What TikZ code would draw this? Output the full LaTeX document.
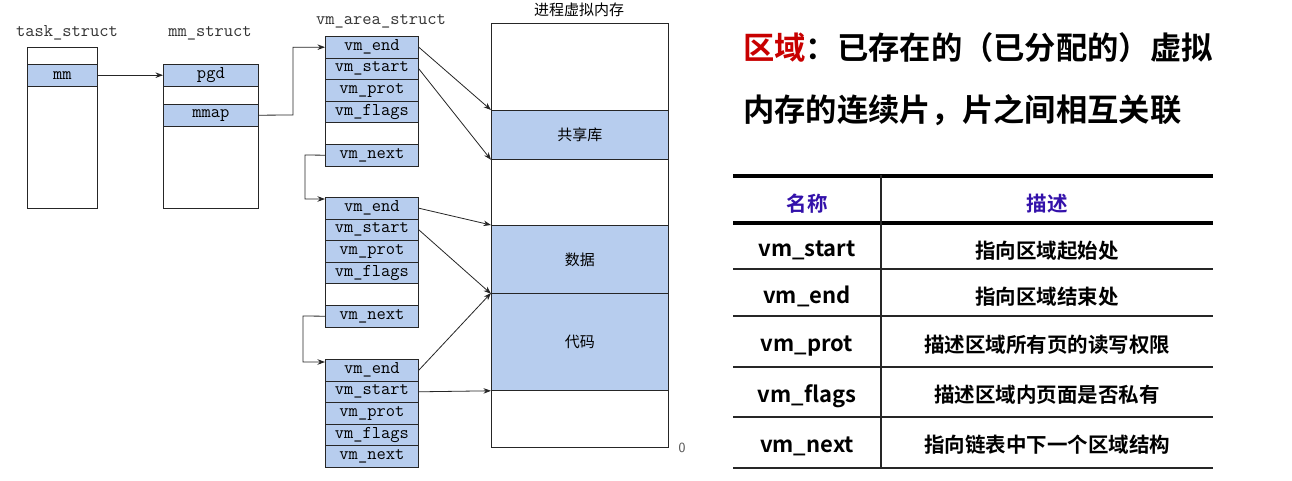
\documentclass[tikz,border=0pt]{standalone}
\usepackage{fontspec}
\newfontfamily\cjk{Noto Sans CJK SC}
\newfontfamily\cjkb{Noto Sans CJK SC Bold}
\usetikzlibrary{arrows.meta}
\definecolor{vmblue}{RGB}{183,205,238}
\definecolor{hdr}{RGB}{51,17,170}
\definecolor{ttl}{RGB}{200,0,0}
\begin{document}
\begin{tikzpicture}[x=1pt,y=-1pt,
  box/.style={draw=black!85, line width=0.8pt, inner sep=0pt, anchor=north west},
  row/.style={box, fill=vmblue, minimum width=93pt, minimum height=21.6pt,
     font=\ttfamily\fontsize{18}{18}\selectfont},
  blank/.style={row, fill=white},
  lbl/.style={font=\ttfamily\fontsize{18}{18}\selectfont, text=black!80, inner sep=0pt},
  ptr/.style={draw=black!85, line width=0.8pt, -{Stealth[length=7.5pt,width=5.5pt]}},
  region/.style={box, fill=vmblue, minimum width=177pt, font=\cjk\fontsize{15}{15}\selectfont},
  tcell/.style={font=\cjkb\fontsize{22}{22}\selectfont, inner sep=0pt},
  dcell/.style={font=\cjkb\fontsize{20.5}{20.5}\selectfont, inner sep=0pt},
  thin/.style={line width=1.3pt, draw=black!85},
  thick/.style={line width=3.5pt, draw=black}
]
\useasboundingbox (0,0) rectangle (1292,481);
\fill[white] (0,0) rectangle (1292,481);

% task_struct
\node[lbl] (tlbl) at (67,33) {task\_struct};
\node[box, minimum width=70pt, minimum height=161pt] (task) at (27,47) {};
\node[row, minimum width=70pt] (mm) at (27,64) {mm};

% mm_struct
\node[lbl] (mlbl) at (210,33) {mm\_struct};
\node[box, minimum width=95pt, minimum height=144pt] (mms) at (163,64) {};
\node[row, minimum width=95pt] (pgd) at (163,64) {pgd};
\node[row, minimum width=95pt] (mmap) at (163,104) {mmap};

% vm_area_struct blocks
\node[lbl] (vlbl) at (381,21) {vm\_area\_struct};
\node[row] (e1) at (325,36) {vm\_end};
\node[row] (s1) at (325,57.6) {vm\_start};
\node[row] (p1) at (325,79.2) {vm\_prot};
\node[row] (f1) at (325,100.8) {vm\_flags};
\node[blank] (b1) at (325,122.4) {};
\node[row] (n1) at (325,144) {vm\_next};

\node[row] (e2) at (325,197) {vm\_end};
\node[row] (s2) at (325,218.6) {vm\_start};
\node[row] (p2) at (325,240.2) {vm\_prot};
\node[row] (f2) at (325,261.8) {vm\_flags};
\node[blank] (b2) at (325,283.4) {};
\node[row] (n2) at (325,305) {vm\_next};

\node[row] (e3) at (325,359) {vm\_end};
\node[row] (s3) at (325,380.6) {vm\_start};
\node[row] (p3) at (325,402.2) {vm\_prot};
\node[row] (f3) at (325,423.8) {vm\_flags};
\node[row] (n3) at (325,445.4) {vm\_next};

% process virtual memory
\node[font=\cjk\fontsize{15}{15}\selectfont, inner sep=0pt] (mlab) at (579,10) {进程虚拟内存};
\node[box, minimum width=177pt, minimum height=424pt] (mem) at (491,23) {};
\node[region, minimum height=49pt] (shared) at (491,110) {共享库};
\node[region, minimum height=68pt] (data) at (491,225) {数据};
\node[region, minimum height=97pt] (code) at (491,293) {代码};
\node[font=\sffamily\fontsize{14}{14}\selectfont, text=black!70, inner sep=0pt] (zero) at (682,448) {0};

% pointers
\draw[ptr] (mm.east) -- (pgd.west);
\coordinate (k1) at (293,115);
\draw[ptr] (mmap.east) -- (k1) |- (e1.west);
\coordinate (k2) at (305,155);
\draw[ptr] (n1.west) -- (k2) |- ([yshift=-2pt]e2.north west);
\coordinate (k3) at (303,316);
\draw[ptr] (n2.west) -- (k3) |- ([yshift=-3pt]e3.north west);

\draw[ptr] (e1.east) -- (shared.north west);
\draw[ptr] (s1.east) -- (shared.south west);
\draw[ptr] (e2.east) -- (data.north west);
\draw[ptr] (s2.east) -- (data.south west);
\draw[ptr] (e3.east) -- (code.north west);
\draw[ptr] (s3.east) -- (code.south west);

% right side title
\node[anchor=west, inner sep=0pt, font=\cjkb\fontsize{31.3}{31.3}\selectfont] (t1) at (743,48)
  {\textcolor{ttl}{区域}：已存在的（已分配的）虚拟};
\node[anchor=west, inner sep=0pt, font=\cjkb\fontsize{31.3}{31.3}\selectfont] (t2) at (743,110)
  {内存的连续片，片之间相互关联};

% table
\draw[thick] (733,176) -- (1213,176);
\draw[thick] (733,223) -- (1213,223);
\draw[thin] (733,269) -- (1213,269);
\draw[thin] (733,316) -- (1213,316);
\draw[thin] (733,367) -- (1213,367);
\draw[thin] (733,417) -- (1213,417);
\draw[thin] (733,468) -- (1213,468);
\draw[thin] (881,175) -- (881,468);

\node[dcell, text=hdr] (h1) at (807,204) {名称};
\node[dcell, text=hdr] (h2) at (1047,204) {描述};

\node[tcell] (r1a) at (807,250) {vm\_start};
\node[dcell] (r1b) at (1047,251) {指向区域起始处};
\node[tcell] (r2a) at (807,296) {vm\_end};
\node[dcell] (r2b) at (1047,297) {指向区域结束处};
\node[tcell] (r3a) at (807,346) {vm\_prot};
\node[dcell] (r3b) at (1047,345) {描述区域所有页的读写权限};
\node[tcell] (r4a) at (807,396) {vm\_flags};
\node[dcell] (r4b) at (1047,395) {描述区域内页面是否私有};
\node[tcell] (r5a) at (807,446) {vm\_next};
\node[dcell] (r5b) at (1047,445) {指向链表中下一个区域结构};
\end{tikzpicture}
\end{document}
